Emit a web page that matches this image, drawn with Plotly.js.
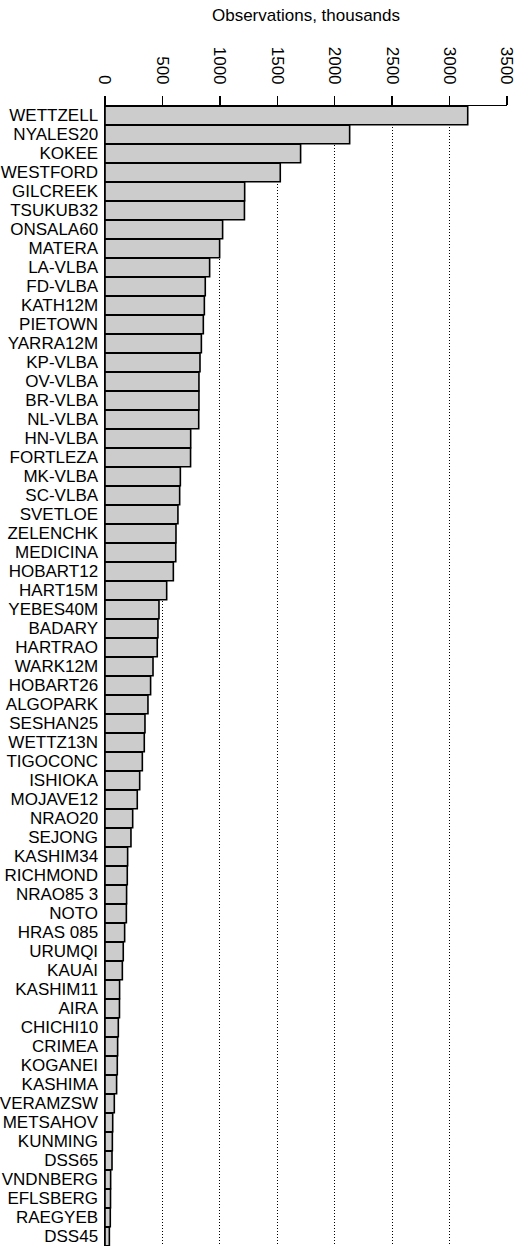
<!DOCTYPE html>
<html>
<head>
<meta charset="utf-8">
<script src="https://cdn.plot.ly/plotly-3.0.1.min.js"></script>
<style>html,body{margin:0;padding:0;background:#fff;}#chart{width:523px;height:1257px;}</style>
</head>
<body>
<div id="chart"></div>
<script>
const stations = ["WETTZELL","NYALES20","KOKEE","WESTFORD","GILCREEK","TSUKUB32","ONSALA60","MATERA","LA-VLBA","FD-VLBA",
  "KATH12M","PIETOWN","YARRA12M","KP-VLBA","OV-VLBA","BR-VLBA","NL-VLBA","HN-VLBA","FORTLEZA","MK-VLBA",
  "SC-VLBA","SVETLOE","ZELENCHK","MEDICINA","HOBART12","HART15M","YEBES40M","BADARY","HARTRAO","WARK12M",
  "HOBART26","ALGOPARK","SESHAN25","WETTZ13N","TIGOCONC","ISHIOKA","MOJAVE12","NRAO20","SEJONG","KASHIM34",
  "RICHMOND","NRAO85 3","NOTO","HRAS 085","URUMQI","KAUAI","KASHIM11","AIRA","CHICHI10","CRIMEA",
  "KOGANEI","KASHIMA","VERAMZSW","METSAHOV","KUNMING","DSS65","VNDNBERG","EFLSBERG","RAEGYEB","DSS45"];
const observations = [3158,2130,1703,1526,1216,1214,1024,998,911,873,
  865,856,839,827,818,818,816,746,745,656,
  650,635,618,616,595,537,470,461,455,418,
  397,374,348,342,325,302,281,241,226,197,
  194,188,186,171,159,151,127,126,116,110,
  107,101,81,67,64,61,49,48,46,38];
const xTicks = [0,500,1000,1500,2000,2500,3000,3500];

const font = {family: "Liberation Sans, Arial, Helvetica, sans-serif", size: 17, color: "#000"};

Plotly.newPlot("chart", [{
  type: "bar",
  orientation: "h",
  y: stations,
  x: observations,
  marker: {color: "#cccccc", line: {color: "#000", width: 1.6}},
  hoverinfo: "skip"
}], {
  width: 523, height: 1257,
  margin: {l: 105, r: 16, t: 106, b: 11, pad: 0},
  paper_bgcolor: "#fff", plot_bgcolor: "#fff",
  font: font,
  bargap: 0.03,
  showlegend: false,
  title: {text: "Observations, thousands", font: font, xref: "paper", x: 0.5, xanchor: "center",
          yref: "container", y: 1 - 15/1257, yanchor: "middle"},
  xaxis: {
    side: "top", range: [0, 3500], tickmode: "array", tickvals: xTicks, ticktext: xTicks.map(String),
    tickangle: 90, ticks: "outside", ticklen: 9, tickwidth: 1.5, tickcolor: "#000",
    showline: true, linecolor: "#000", linewidth: 1.5, ticklabelstandoff: 5,
    showgrid: true, gridcolor: "#000", gridwidth: 1, griddash: "1px,2px",
    zeroline: false, tickfont: font, fixedrange: true
  },
  yaxis: {
    type: "category", categoryorder: "array", categoryarray: stations,
    tickmode: "array", tickvals: stations, ticktext: stations,
    range: [59.5, -0.5], ticks: "", showline: true, linecolor: "#000", linewidth: 1.5,
    showgrid: false, zeroline: false, tickfont: font, ticklabelstandoff: 2, fixedrange: true
  }
}, {displayModeBar: false, staticPlot: true});
</script>
</body>
</html>
